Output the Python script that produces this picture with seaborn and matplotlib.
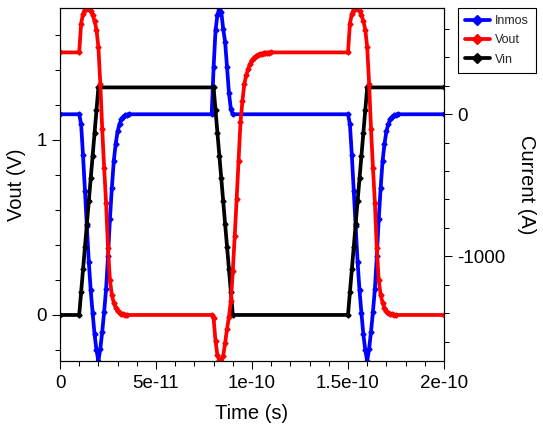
import numpy as np
import matplotlib
matplotlib.use("Agg")
import matplotlib.pyplot as plt
import seaborn as sns
from matplotlib.ticker import FixedLocator, FixedFormatter, MultipleLocator
from matplotlib.lines import Line2D

# ---------------- data (time in ps) ----------------
series_names = ["Inmos", "Vout", "Vin"]
series_colors = ["#0000ff", "#ff0000", "#000000"]

vin_t_ps = [0, 10, 11, 12, 13, 14, 15, 16, 17, 18, 19, 20,
            80, 81, 82, 83, 84, 85, 86, 87, 88, 89, 90,
            150, 151, 152, 153, 154, 155, 156, 157, 158, 159, 160, 200]
vin_v = [0, 0, 0.13, 0.26, 0.39, 0.52, 0.65, 0.78, 0.91, 1.04, 1.17, 1.3,
         1.3, 1.17, 1.04, 0.91, 0.78, 0.65, 0.52, 0.39, 0.26, 0.13, 0,
         0, 0.13, 0.26, 0.39, 0.52, 0.65, 0.78, 0.91, 1.04, 1.17, 1.3, 1.3]

vout_t_ps = [0,
             10, 11, 12, 13, 14, 15, 16, 17, 18, 19, 20, 21, 22, 23, 24, 25,
             26, 27, 28, 29, 30, 31, 32, 33, 34, 35,
             79, 80, 81, 82, 83, 84, 85, 86, 87, 88, 89, 90, 91, 92, 93, 94,
             95, 96, 97, 98, 99, 100, 101, 102, 103, 104, 105, 106, 107, 108,
             109, 110,
             150, 151, 152, 153, 154, 155, 156, 157, 158, 159, 160, 161, 162,
             163, 164, 165, 166, 167, 168, 169, 170, 171, 172, 173, 174, 175,
             200]
vout_v = [1.5,
          1.5, 1.665, 1.72, 1.745, 1.752, 1.75, 1.735, 1.714, 1.68, 1.63,
          1.53, 1.32, 1.06, 0.84, 0.64, 0.38, 0.2, 0.115, 0.07, 0.042, 0.024,
          0.013, 0.007, 0.003, 0.001, 0,
          0, -0.02, -0.15, -0.23, -0.258, -0.263, -0.235, -0.16, -0.08, -0.01,
          0.08, 0.25, 0.45, 0.66, 0.88, 1.1, 1.22, 1.32, 1.37, 1.405, 1.435,
          1.455, 1.47, 1.478, 1.485, 1.49, 1.493, 1.495, 1.497, 1.498, 1.499,
          1.5,
          1.5, 1.665, 1.72, 1.745, 1.752, 1.75, 1.735, 1.714, 1.68, 1.63,
          1.53, 1.32, 1.06, 0.84, 0.64, 0.38, 0.2, 0.115, 0.07, 0.042, 0.024,
          0.013, 0.007, 0.003, 0.001, 0,
          0]

inmos_t_ps = [0,
              10, 11, 12, 13, 14, 15, 16, 17, 18, 19, 20, 21, 22, 23, 24, 25,
              26, 27, 28, 29, 30, 31, 32, 33, 34, 35, 36,
              79, 80, 81, 82, 83, 84, 85, 86, 87, 88, 89, 90,
              150, 151, 152, 153, 154, 155, 156, 157, 158, 159, 160, 161, 162,
              163, 164, 165, 166, 167, 168, 169, 170, 171, 172, 173, 174, 175,
              176,
              200]
inmos_a = [0,
           0, -70, -290, -540, -790, -1040, -1240, -1400, -1550, -1660, -1737,
           -1650, -1530, -1390, -1230, -1000, -740, -520, -330, -210, -120,
           -70, -35, -18, -8, -3, 0,
           0, 330, 590, 700, 746, 720, 600, 510, 330, 150, 35, 0,
           0, -70, -290, -540, -790, -1040, -1240, -1400, -1550, -1660, -1737,
           -1650, -1530, -1390, -1230, -1000, -740, -520, -330, -210, -120,
           -70, -35, -18, -8, -3, 0,
           0]

x_tick_values = [0, 5e-11, 1e-10, 1.5e-10, 2e-10]
x_tick_labels = ["0", "5e-11", "1e-10", "1.5e-10", "2e-10"]
left_tick_values = [0, 1]
right_tick_values = [-1000, 0]

# ---------------- style ----------------
sns.set_theme(style="ticks")
plt.rcParams["font.family"] = ["Liberation Sans", "DejaVu Sans"]
plt.rcParams["axes.unicode_minus"] = False

fig = plt.figure(figsize=(5.43, 4.30), dpi=100)
ax = fig.add_axes([60 / 543, 1 - 361 / 430, 384 / 543, 352.7 / 430])
ax2 = ax.twinx()
ax.set_zorder(ax2.get_zorder() + 1)
ax.patch.set_visible(False)

lw = 2.7
ms = 2.6
common = dict(estimator=None, sort=False, legend=False, linewidth=lw,
              marker="D", markersize=ms, markeredgewidth=1.0)

sns.lineplot(x=np.array(inmos_t_ps) * 1e-12, y=inmos_a, ax=ax2,
             color=series_colors[0], markeredgecolor=series_colors[0],
             markerfacecolor=series_colors[0], **common)
sns.lineplot(x=np.array(vin_t_ps) * 1e-12, y=vin_v, ax=ax,
             color=series_colors[2], markeredgecolor=series_colors[2],
             markerfacecolor=series_colors[2], **common)
sns.lineplot(x=np.array(vout_t_ps) * 1e-12, y=vout_v, ax=ax,
             color=series_colors[1], markeredgecolor=series_colors[1],
             markerfacecolor=series_colors[1], **common)

ax.set_xlim(0, 2e-10)
ax.set_ylim(min(vout_v + vin_v), max(vout_v + vin_v))
ax2.set_ylim(min(inmos_a), max(inmos_a))

ax.xaxis.set_major_locator(FixedLocator(x_tick_values))
ax.xaxis.set_major_formatter(FixedFormatter(x_tick_labels))
ax.xaxis.set_minor_locator(MultipleLocator(1e-11))
ax.yaxis.set_major_locator(FixedLocator(left_tick_values))
ax.yaxis.set_minor_locator(MultipleLocator(0.2))
ax2.yaxis.set_major_locator(FixedLocator(right_tick_values))
ax2.yaxis.set_minor_locator(MultipleLocator(200))

tick_fs = 13.5
for a in (ax, ax2):
    a.tick_params(which="major", direction="out", length=5.8, width=0.75,
                  color="black", labelsize=tick_fs, labelcolor="black", pad=3.5)
    a.tick_params(which="minor", direction="out", length=3.8, width=0.75,
                  color="black")
    for s in a.spines.values():
        s.set_color("black")
        s.set_linewidth(0.8)
ax.tick_params(axis="x", which="major", pad=4.5)
ax.tick_params(right=False, top=False, which="both")
ax2.tick_params(left=False, top=False, which="both")

label_fs = 14.5
ax.set_xlabel("Time (s)", fontsize=label_fs, color="black", va="center")
ax.xaxis.set_label_coords(0.5, -0.150)
ax.set_ylabel("Vout (V)", fontsize=label_fs, color="black", va="center")
ax.yaxis.set_label_coords(-0.113, 0.5)
ax2.set_ylabel("Current (A)", fontsize=label_fs, color="black",
               rotation=270, va="center")
ax2.yaxis.set_label_coords(1.2154, 0.5)

handles = [Line2D([], [], color=c, linewidth=lw, marker="D", markersize=ms,
                  markeredgewidth=1.0, markeredgecolor=c, markerfacecolor=c)
           for c in series_colors]
leg = fig.legend(handles, series_names, loc="upper left",
                 bbox_to_anchor=(458 / 543, 1 - 8.3 / 430),
                 bbox_transform=fig.transFigure, frameon=True, fancybox=False,
                 edgecolor="black", framealpha=1, fontsize=9, borderaxespad=0,
                 handlelength=2.0, handletextpad=0.4, borderpad=0.55,
                 labelspacing=0.58, markerscale=2.0)
leg.get_frame().set_linewidth(0.8)

fig.savefig("out.png", dpi=100)
